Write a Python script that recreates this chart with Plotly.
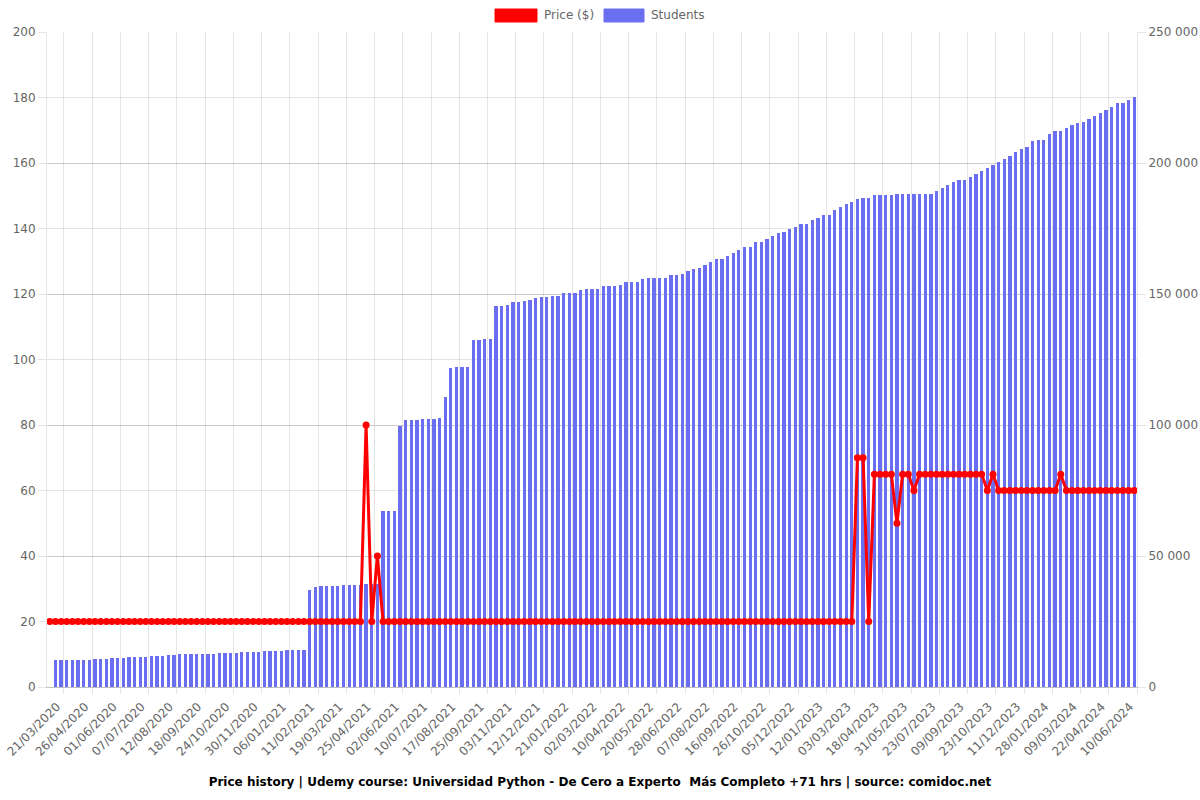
import plotly.graph_objects as go

# ---------------- data ----------------
tick_labels = [
    "21/03/2020", "26/04/2020", "01/06/2020", "07/07/2020", "12/08/2020",
    "18/09/2020", "24/10/2020", "30/11/2020", "06/01/2021", "11/02/2021",
    "19/03/2021", "25/04/2021", "02/06/2021", "10/07/2021", "17/08/2021",
    "25/09/2021", "03/11/2021", "12/12/2021", "21/01/2022", "02/03/2022",
    "10/04/2022", "20/05/2022", "28/06/2022", "07/08/2022", "16/09/2022",
    "26/10/2022", "05/12/2022", "12/01/2023", "03/03/2023", "18/04/2023",
    "31/05/2023", "23/07/2023", "09/09/2023", "23/10/2023", "11/12/2023",
    "28/01/2024", "09/03/2024", "22/04/2024", "10/06/2024",
]
label_step = 5  # one label every 5 observations

price = [
    20, 20, 20, 20, 20, 20, 20, 20, 20, 20, 20, 20, 20, 20, 20, 20, 20, 20, 20, 20,
    20, 20, 20, 20, 20, 20, 20, 20, 20, 20, 20, 20, 20, 20, 20, 20, 20, 20, 20, 20,
    20, 20, 20, 20, 20, 20, 20, 20, 20, 20, 20, 20, 20, 20, 20, 20, 80, 20, 40, 20,
    20, 20, 20, 20, 20, 20, 20, 20, 20, 20, 20, 20, 20, 20, 20, 20, 20, 20, 20, 20,
    20, 20, 20, 20, 20, 20, 20, 20, 20, 20, 20, 20, 20, 20, 20, 20, 20, 20, 20, 20,
    20, 20, 20, 20, 20, 20, 20, 20, 20, 20, 20, 20, 20, 20, 20, 20, 20, 20, 20, 20,
    20, 20, 20, 20, 20, 20, 20, 20, 20, 20, 20, 20, 20, 20, 20, 20, 20, 20, 20, 20,
    20, 20, 20, 70, 70, 20, 65, 65, 65, 65, 50, 65, 65, 60, 65, 65, 65, 65, 65, 65,
    65, 65, 65, 65, 65, 65, 60, 65, 60, 60, 60, 60, 60, 60, 60, 60, 60, 60, 60, 65,
    60, 60, 60, 60, 60, 60, 60, 60, 60, 60, 60, 60, 60,
]

students = [
    None, 10180, 10180, 10180, 10180, 10180, 10300, 10430, 10560, 10690,
    10810, 10940, 11070, 11200, 11320, 11320, 11450, 11580, 11710, 11830,
    11960, 12090, 12210, 12470, 12470, 12470, 12600, 12600, 12720, 12720,
    12850, 12850, 12980, 13100, 13230, 13230, 13360, 13490, 13610, 13610,
    13740, 13870, 14000, 14120, 14250, 14250, 37020, 38170, 38420, 38550,
    38550, 38680, 38800, 38930, 39060, 39060, 39190, 39190, 39310, 67050,
    67180, 67180, 99750, 101780, 102040, 102040, 102160, 102290, 102420, 102550,
    110560, 121880, 122010, 122140, 122270, 132500, 132600, 132820, 132820, 145420,
    145550, 145670, 146820, 147070, 147330, 147580, 148600, 148730, 148860, 149110,
    149360, 150250, 150380, 150510, 151530, 151780, 151780, 151780, 152930, 153180,
    153180, 153310, 154450, 154580, 154580, 155730, 155980, 155980, 155980, 156110,
    157380, 157380, 157510, 158650, 159670, 159800, 160940, 162090, 163230, 163230,
    164500, 165520, 166670, 167810, 167940, 169980, 169980, 170990, 172260, 173410,
    173480, 174680, 175700, 176720, 176850, 178120, 179140, 180280, 180280, 182060,
    183210, 184220, 185240, 186390, 186510, 186510, 187660, 187660, 187790, 187790,
    188040, 188040, 188040, 188170, 188170, 188300, 188300, 189440, 190330, 191480,
    192620, 193640, 193640, 194780, 195800, 196950, 197970, 199110, 200380, 201530,
    202670, 204260, 205220, 206230, 208520, 208650, 208780, 210940, 212210, 212210,
    213490, 214500, 215390, 215780, 216920, 217940, 218960, 220230, 221500, 222770,
    222770, 224050, 225310,
]

title_text = ("Price history | Udemy course: Universidad Python - De Cero a Experto  "
              "Más Completo +71 hrs | source: comidoc.net")

# ---------------- styling ----------------
RED = "#ff0000"
BLUE = "#6a6ef0"
GRID = "rgba(0,0,0,0.1)"
TICKFONT = dict(family="DejaVu Sans", size=12, color="#666666")

W, H = 1200, 800
L, R, T, B = 47, 63, 32, 113
pw, ph = W - L - R, H - T - B

def px_x(px):
    return (px - L) / pw

def px_y(py):
    return (H - B - py) / ph

n = len(price)
xs = list(range(n))
tickvals = list(range(0, label_step * len(tick_labels), label_step))

fig = go.Figure()
fig.add_trace(go.Bar(
    x=xs, y=students, name="Students", yaxis="y",
    marker=dict(color=BLUE, line=dict(width=0)), width=0.58,
    showlegend=False, hoverinfo="skip",
))
fig.add_trace(go.Scatter(
    x=xs, y=price, name="Price ($)", yaxis="y2", mode="lines+markers",
    line=dict(color=RED, width=3), marker=dict(color=RED, size=7),
    showlegend=False, hoverinfo="skip",
))

fig.update_layout(
    template="none",
    width=W, height=H,
    margin=dict(l=L, r=R, t=T, b=B, pad=0, autoexpand=False),
    paper_bgcolor="white", plot_bgcolor="white",
    separators=". ",
    showlegend=False,
    bargap=0,
    font=dict(family="DejaVu Sans", size=12, color="#666666"),
    title=dict(text="<b>" + title_text + "</b>", x=0.5, xanchor="center",
               xref="container", yref="container", y=1 - 782 / H, yanchor="middle",
               font=dict(family="DejaVu Sans", size=12, color="#000000")),
    xaxis=dict(
        range=[-0.5, n - 0.5], tickmode="array", tickvals=tickvals, ticktext=tick_labels,
        tickangle=-45, tickfont=TICKFONT, showgrid=False, ticks="", zeroline=False,
        automargin=False, ticklabeloverflow="allow",
        ticklabelshift=7, ticklabelstandoff=7,
        showline=True, linecolor="rgba(0,0,0,0.25)", linewidth=1,
        minor=dict(tickmode="linear", tick0=2.5, dtick=label_step, showgrid=True,
                   gridcolor=GRID, gridwidth=1, ticks="outside", ticklen=6,
                   tickcolor=GRID),
    ),
    yaxis=dict(
        side="right", range=[0, 250000], tickmode="linear", tick0=0, dtick=50000,
        tickformat=",d", tickfont=TICKFONT, showgrid=True, gridcolor=GRID,
        ticks="outside", ticklen=8, tickcolor=GRID, zeroline=False,
        automargin=False, ticklabeloverflow="allow",
        showline=True, linecolor=GRID,
    ),
    yaxis2=dict(
        side="left", overlaying="y", range=[0, 200], tickmode="linear", tick0=0, dtick=20,
        tickfont=TICKFONT, showgrid=True, gridcolor=GRID,
        ticks="outside", ticklen=8, tickcolor=GRID, zeroline=False,
        automargin=False, ticklabeloverflow="allow",
        showline=True, linecolor=GRID,
    ),
)

# ---------------- legend (drawn like the reference's box swatches) ----------------
legend_items = [("Price ($)", RED, 495, 537, 542), ("Students", BLUE, 604, 644, 649)]
for label, col, bx0, bx1, tx in legend_items:
    fig.add_shape(type="rect", xref="paper", yref="paper",
                  x0=px_x(bx0), x1=px_x(bx1), y0=px_y(22), y1=px_y(9),
                  fillcolor=col, line=dict(color=col, width=1), layer="above")
    fig.add_annotation(text=label, xref="paper", yref="paper", x=px_x(tx), y=px_y(15.5),
                       xanchor="left", yanchor="middle", showarrow=False,
                       font=dict(family="DejaVu Sans", size=12, color="#666666"))

fig.write_html("out.html")
